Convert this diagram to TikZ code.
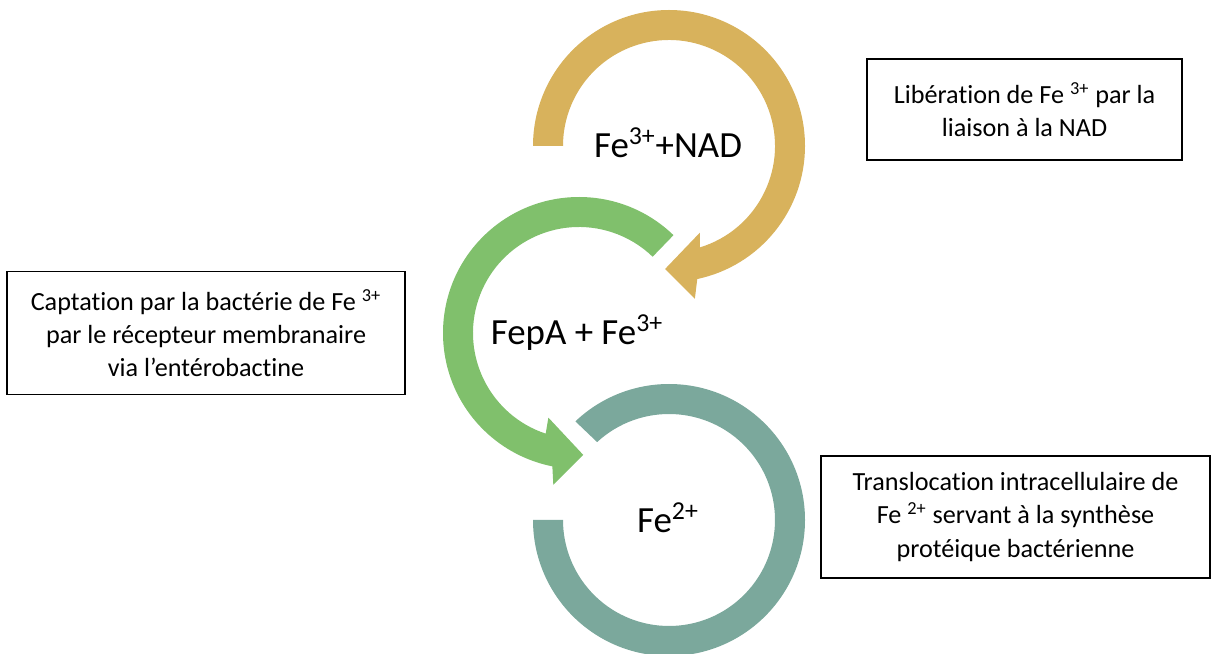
\documentclass[tikz,border=0pt]{standalone}
\usepackage{fontspec}
\setmainfont{Carlito}[Ligatures=NoCommon]
\definecolor{ringgold}{RGB}{216,178,92}
\definecolor{ringgreen}{RGB}{128,192,108}
\definecolor{ringteal}{RGB}{123,168,156}
\tikzset{
  infobox/.style={draw=black, line width=0.8pt, align=center, inner sep=0pt,
    font=\fontsize{14.9}{18.8}\selectfont},
  ringlabel/.style={anchor=base, inner sep=0pt, font=\fontsize{21}{25}\selectfont}
}
\begin{document}
\begin{tikzpicture}[x=0.02cm,y=0.02cm]
\useasboundingbox (0,0) rectangle (1211,653);
\clip (0,0) rectangle (1211,653);
\coordinate (cg) at (669,507);
\coordinate (cv) at (579,320);
\coordinate (ct) at (669,133);
% gold ring with arrowhead
\fill[ringgold] ([shift={(cg)}]180:136) arc[start angle=180,end angle=-78,radius=136]
  -- ([shift={(cg)}]-80.4:155) -- ([shift={(cg)}]-91.8:123) -- ([shift={(cg)}]-70.4:92)
  -- ([shift={(cg)}]-73:106) arc[start angle=-73,end angle=180,radius=106] -- cycle;
% green ring with arrowhead
\fill[ringgreen] ([shift={(cv)}]46:136) arc[start angle=46,end angle=258.7,radius=136]
  -- ([shift={(cv)}]260.4:154) -- ([shift={(cv)}]272:122) -- ([shift={(cv)}]250.1:90)
  -- ([shift={(cv)}]251.7:106) arc[start angle=251.7,end angle=46,radius=106] -- cycle;
% teal ring
\fill[ringteal] ([shift={(ct)}]180:136) arc[start angle=180,end angle=493.5,radius=136]
  -- ([shift={(ct)}]492.7:106) arc[start angle=492.7,end angle=180,radius=106] -- cycle;
% ring labels
\node[ringlabel] (lg) at (668,495) {Fe\textsuperscript{3+}+NAD};
\node[ringlabel] (lv) at (577,308) {FepA + Fe\textsuperscript{3+}};
\node[ringlabel] (lt) at (668,120) {Fe\textsuperscript{2+}};
% boxes
\node[infobox, minimum width=7.96cm, minimum height=2.46cm] (b1) at (206,320)
  {Captation par la bactérie de Fe \textsuperscript{3+}\\par le récepteur membranaire\\via l’entérobactine};
\node[infobox, minimum width=6.3cm, minimum height=2.02cm] (b2) at (1024.5,543.5)
  {Libération de Fe \textsuperscript{3+} par la\\liaison à la NAD};
\node[infobox, minimum width=7.78cm, minimum height=2.44cm] (b3) at (1015.5,136)
  {Translocation intracellulaire de\\Fe \textsuperscript{2+} servant à la synthèse\\protéique bactérienne};
\end{tikzpicture}
\end{document}
